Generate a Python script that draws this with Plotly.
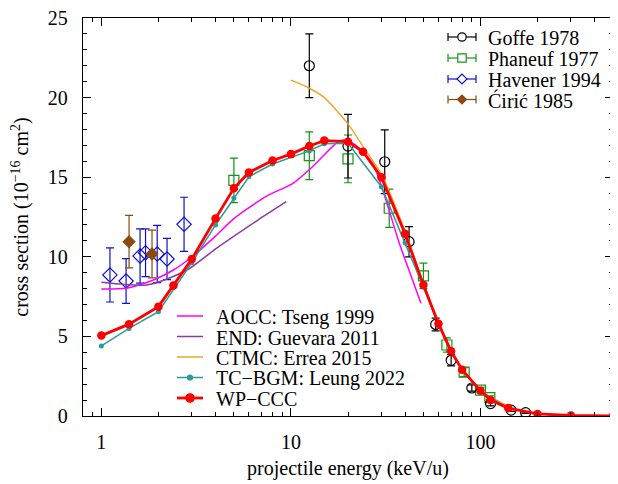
import math
import plotly.graph_objects as go

# ---------------- data ----------------
wp_E = [1, 1.4, 2, 2.4, 3, 4, 5, 6, 8, 10, 12.5, 15, 20, 24, 30, 40, 50, 60, 70, 80, 100, 113, 140, 200, 300, 500]
wp_S = [5.05, 5.77, 6.87, 8.2, 9.86, 12.4, 14.3, 15.3, 16.05, 16.45, 16.96, 17.3, 17.23, 16.6, 15.0, 11.45, 8.23, 5.8, 4.06, 2.91, 1.58, 1.0, 0.5, 0.13, 0.03, 0.01]

tc_E = [1, 1.4, 2, 3, 4, 5, 6, 8, 12.5, 15, 20, 30, 40, 50, 60, 70, 80, 100, 140, 200]
tc_S = [4.4, 5.5, 6.55, 9.63, 12.0, 13.7, 15.03, 15.83, 16.65, 17.1, 17.13, 14.4, 10.88, 8.1, 5.75, 4.0, 2.88, 1.56, 0.5, 0.13]

ctmc_E = [10, 12, 15, 20, 25, 30, 40, 50, 60, 70, 80, 100, 150, 200]
ctmc_S = [21.1, 20.7, 20.0, 18.35, 16.6, 15.2, 11.6, 8.3, 5.9, 4.1, 2.95, 1.6, 0.45, 0.15]

aocc_E = [1.0, 1.36, 1.88, 2.4, 3.04, 4.0, 5.0, 7.4, 10.2, 13, 17.3, 19, 22, 27, 30.5, 37.3, 43.8, 48.5]
aocc_S = [7.97, 8.02, 8.54, 9.17, 10.05, 11.3, 12.4, 13.8, 14.6, 15.66, 17.13, 17.34, 17.0, 15.87, 14.2, 10.85, 8.54, 7.08]

end_E = [1.0, 1.3, 1.73, 2.2, 2.93, 4.04, 6.7, 9.45]
end_S = [8.4, 8.27, 8.23, 8.59, 9.28, 10.53, 12.31, 13.46]

goffe_E = [12.5, 20, 31.25, 42, 58, 70, 90, 113, 145, 173]
goffe_S = [22.0, 16.95, 15.97, 10.95, 5.75, 3.5, 1.76, 0.78, 0.37, 0.21]
goffe_err = [2.0, 2.0, 2.0, 0.95, 0.4, 0.35, 0.2, 0.15, 0.08, 0.05]

phan_E = [5, 12.5, 20, 33, 50, 66.5, 82, 100, 112]
phan_S = [14.8, 16.35, 16.15, 13.05, 8.8, 4.46, 2.75, 1.63, 1.15]
phan_err = [1.4, 1.5, 1.5, 1.2, 0.8, 0.45, 0.28, 0.17, 0.12]

hav_E = [1.11, 1.35, 1.6, 1.71, 1.97, 2.22, 2.73]
hav_S = [8.86, 8.48, 10.05, 10.26, 10.18, 9.86, 12.04]
hav_err = [1.7, 1.4, 1.7, 1.5, 1.8, 1.3, 1.7]

ciric_E = [1.4, 1.85]
ciric_S = [10.95, 10.18]
ciric_err = [1.65, 1.5]

# ---------------- styles ----------------
C_RED = "#ff0000"
C_TEAL = "#2a9a9a"
C_MAG = "#ff00ff"
C_PUR = "#8a3c9e"
C_ORG = "#eea825"
C_BLK = "#000000"
C_GRN = "#149414"
C_BLU = "#1010c8"
C_BRN = "#8b4a12"
FONT = "Liberation Serif"

# page body has an 8px margin, so the figure is drawn at (8, 8)
OFF = 8
W, H = 610, 476
ML, MR, MT, MB = 75, 5, 10, 68
PW, PH = W - ML - MR, H - MT - MB

fig = go.Figure()

def exp_trace(E, S, err, color, symbol, size):
    fig.add_trace(go.Scatter(
        x=E, y=S, mode="markers", showlegend=False,
        marker=dict(symbol=symbol, size=size, color=color, line=dict(color=color, width=1.2)),
        error_y=dict(type="data", array=err, visible=True, color=color, thickness=1.2, width=4),
    ))

exp_trace(hav_E, hav_S, hav_err, C_BLU, "diamond-open", 11)
exp_trace(ciric_E, ciric_S, ciric_err, C_BRN, "diamond", 9)
exp_trace(phan_E, phan_S, phan_err, C_GRN, "square-open", 10)
exp_trace(goffe_E, goffe_S, goffe_err, C_BLK, "circle-open", 10)

fig.add_trace(go.Scatter(x=aocc_E, y=aocc_S, mode="lines", line=dict(color=C_MAG, width=1.5, shape="spline", smoothing=0.6), showlegend=False))
fig.add_trace(go.Scatter(x=end_E, y=end_S, mode="lines", line=dict(color=C_PUR, width=1.5, shape="spline", smoothing=0.6), showlegend=False))
fig.add_trace(go.Scatter(x=ctmc_E, y=ctmc_S, mode="lines", line=dict(color=C_ORG, width=1.5, shape="spline", smoothing=0.6), showlegend=False))
fig.add_trace(go.Scatter(x=tc_E, y=tc_S, mode="lines+markers", line=dict(color=C_TEAL, width=1.5), marker=dict(size=5, color=C_TEAL), showlegend=False))
fig.add_trace(go.Scatter(x=wp_E, y=wp_S, mode="lines+markers", line=dict(color=C_RED, width=2.8), marker=dict(size=8.5, color=C_RED), showlegend=False))

# ---------------- manual legends (layout decoration, in screen pixels) ----------------
def px(x):
    return (x - OFF - ML) / PW

def py(y):
    return (OFF + H - MB - y) / PH

shapes = []
annots = []

def add_line(x0, y0, x1, y1, color, width):
    shapes.append(dict(type="line", xref="paper", yref="paper", x0=px(x0), y0=py(y0), x1=px(x1), y1=py(y1),
                       line=dict(color=color, width=width)))

def add_marker(kind, cx, cy, r, color, filled):
    fill = color if filled else "white"
    if kind == "circle":
        shapes.append(dict(type="circle", xref="paper", yref="paper", x0=px(cx - r), x1=px(cx + r),
                           y0=py(cy + r), y1=py(cy - r), line=dict(color=color, width=1.2), fillcolor=fill))
    elif kind == "square":
        shapes.append(dict(type="rect", xref="paper", yref="paper", x0=px(cx - r), x1=px(cx + r),
                           y0=py(cy + r), y1=py(cy - r), line=dict(color=color, width=1.2), fillcolor=fill))
    elif kind == "diamond":
        path = "M {} {} L {} {} L {} {} L {} {} Z".format(px(cx - r), py(cy), px(cx), py(cy - r), px(cx + r), py(cy), px(cx), py(cy + r))
        shapes.append(dict(type="path", xref="paper", yref="paper", path=path, line=dict(color=color, width=1.2), fillcolor=fill))

def add_text(x, y, text):
    annots.append(dict(xref="paper", yref="paper", x=px(x), y=py(y), text=text, showarrow=False,
                       xanchor="left", yanchor="middle", font=dict(family=FONT, size=20, color="black")))

exp_legend = [
    ("Goffe 1978", C_BLK, "circle", 4.2, False),
    ("Phaneuf 1977", C_GRN, "square", 4.2, False),
    ("Havener 1994", C_BLU, "diamond", 5, False),
    ("Ćirić 1985", C_BRN, "diamond", 4.5, True),
]
rows_top = [37, 58, 79, 99.5]
for (lab, col, kind, r, filled), yy in zip(exp_legend, rows_top):
    add_line(448, yy, 476, yy, col, 1.2)
    add_line(448, yy - 4, 448, yy + 4, col, 1.2)
    add_line(476, yy - 4, 476, yy + 4, col, 1.2)
    add_marker(kind, 462, yy, r, col, filled)
    add_text(486, yy + 1, lab)

th_legend = [
    ("AOCC: Tseng 1999", C_MAG, 1.5, 0),
    ("END: Guevara 2011", C_PUR, 1.5, 0),
    ("CTMC: Errea 2015", C_ORG, 1.5, 0),
    ("TC−BGM: Leung 2022", C_TEAL, 1.5, 2.5),
    ("WP−CCC", C_RED, 2.8, 4.2),
]
rows_bot = [316, 336.5, 357, 377.5, 398]
for (lab, col, lw, mr), yy in zip(th_legend, rows_bot):
    add_line(177, yy, 203, yy, col, lw)
    if mr > 0:
        add_marker("circle", 190, yy, mr, col, True)
    add_text(214, yy + 1, lab)

fig.update_layout(shapes=shapes, annotations=annots)

minor_x = [0.8, 0.9] + [m * d for d in (1, 10) for m in range(2, 10)] + [200, 300, 400, 500]

fig.update_xaxes(
    type="log", range=[math.log10(0.8), math.log10(500)],
    tickvals=[1, 10, 100], ticktext=["1", "10", "100"],
    ticks="inside", ticklen=8, tickwidth=1, tickcolor="black",
    minor=dict(tickvals=minor_x, ticks="inside", ticklen=4, tickwidth=1, tickcolor="black"),
    showline=True, linecolor="black", linewidth=1.3, mirror="allticks",
    showgrid=False, zeroline=False, ticklabeloverflow="allow",
    tickfont=dict(family=FONT, size=20, color="black"), ticklabelstandoff=8,
    title=dict(text="projectile energy (keV/u)", font=dict(family=FONT, size=20, color="black"), standoff=8),
)
fig.update_yaxes(
    range=[0, 25], tick0=0, dtick=5,
    ticks="inside", ticklen=8, tickwidth=1, tickcolor="black",
    minor=dict(dtick=1, ticks="inside", ticklen=4, tickwidth=1, tickcolor="black"),
    showline=True, linecolor="black", linewidth=1.3, mirror="allticks",
    showgrid=False, zeroline=False, ticklabeloverflow="allow",
    tickfont=dict(family=FONT, size=20, color="black"), ticklabelstandoff=10,
    title=dict(text="cross section (10<sup>−16</sup> cm<sup>2</sup>)", font=dict(family=FONT, size=20, color="black"), standoff=13),
)

fig.update_layout(
    width=W, height=H,
    margin=dict(l=ML, r=MR, t=MT, b=MB, autoexpand=False),
    plot_bgcolor="white", paper_bgcolor="white",
    showlegend=False,
    font=dict(family=FONT, size=20, color="black"),
)

fig.write_html("out.html")
